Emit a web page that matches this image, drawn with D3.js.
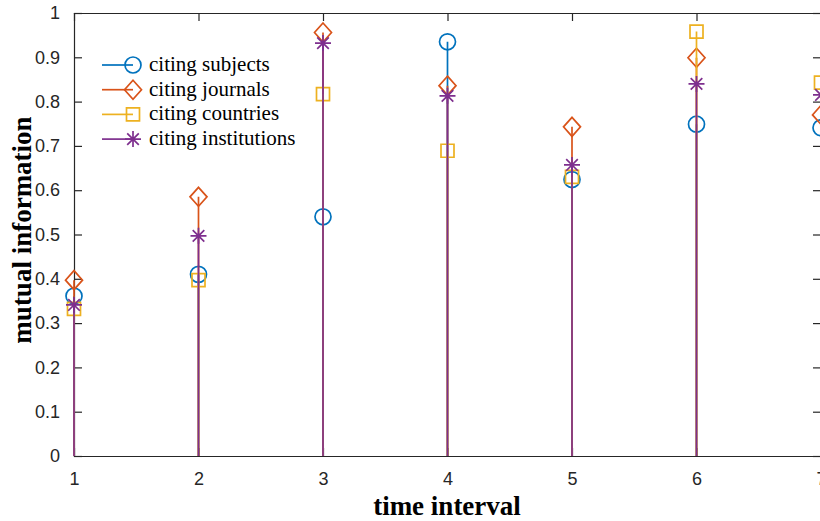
<!DOCTYPE html>
<html>
<head>
<meta charset="utf-8">
<script src="https://cdn.jsdelivr.net/npm/d3@7"></script>
<style>
  body { margin: 0; background: #fff; }
  svg { display: block; }
  .axis path, .axis line { stroke: #262626; stroke-width: 1.2; }
  .axis text { fill: #262626; font-family: "Liberation Sans", Arial, sans-serif; font-size: 18px; }
</style>
</head>
<body>
<div class="chart"></div>
<script>
// time intervals on x
var intervals = [1, 2, 3, 4, 5, 6, 7];
var yTicks = [0, 0.1, 0.2, 0.3, 0.4, 0.5, 0.6, 0.7, 0.8, 0.9, 1];

// mutual information per series
var subjects     = [0.361, 0.410, 0.540, 0.935, 0.624, 0.749, 0.741];
var journals     = [0.397, 0.585, 0.956, 0.836, 0.743, 0.899, 0.770];
var countries    = [0.332, 0.397, 0.817, 0.689, 0.630, 0.958, 0.843];
var institutions = [0.341, 0.497, 0.932, 0.813, 0.657, 0.840, 0.815];

var seriesNames = ["citing subjects", "citing journals", "citing countries", "citing institutions"];

var series = [
	{name: seriesNames[0], values: subjects,     color: "#0072BD", marker: "circle"},
	{name: seriesNames[1], values: journals,     color: "#D95319", marker: "diamond"},
	{name: seriesNames[2], values: countries,    color: "#EDB120", marker: "square"},
	{name: seriesNames[3], values: institutions, color: "#7E2F8E", marker: "star"}
];

var width = 820,
	height = 521,
	plotLeft = 74, plotRight = 821, plotTop = 13, plotBottom = 456;

var x = d3.scaleLinear()
	.domain([1, 7])
	.range([plotLeft, plotRight]);

var y = d3.scaleLinear()
	.domain([0, 1])
	.range([plotBottom, plotTop]);

var svg = d3.select(".chart")
	.append("svg")
	.attr("width", width)
	.attr("height", height);

// marker shapes, drawn around 0,0
function markerPath(type) {
	if (type == "circle") {
		return "M8,0A8,8 0 1,1 -8,0A8,8 0 1,1 8,0Z";
	}
	if (type == "diamond") {
		return "M0,-9.5L8.5,0L0,9.5L-8.5,0Z";
	}
	if (type == "square") {
		return "M-6.5,-6.5L6.5,-6.5L6.5,6.5L-6.5,6.5Z";
	}
	// star = plus + cross
	return "M-8,0L8,0M0,-8L0,8M-5.8,-5.8L5.8,5.8M-5.8,5.8L5.8,-5.8";
}

// axes: box with inward ticks
svg.append("g")
	.attr("class", "axis")
	.attr("transform", "translate(0," + plotBottom + ")")
	.call(d3.axisBottom(x).tickValues(intervals).tickFormat(d3.format("d"))
		.tickSizeInner(-8).tickSizeOuter(0).tickPadding(16));

svg.append("g")
	.attr("class", "axis")
	.attr("transform", "translate(0," + plotTop + ")")
	.call(d3.axisTop(x).tickValues(intervals).tickFormat("")
		.tickSizeInner(-8).tickSizeOuter(0));

svg.append("g")
	.attr("class", "axis")
	.attr("transform", "translate(" + plotLeft + ",0)")
	.call(d3.axisLeft(y).tickValues(yTicks).tickFormat(function(d){ return d === 0 || d === 1 ? d : d.toFixed(1); })
		.tickSizeInner(-8).tickSizeOuter(0).tickPadding(14));

svg.append("g")
	.attr("class", "axis")
	.attr("transform", "translate(" + plotRight + ",0)")
	.call(d3.axisRight(y).tickValues(yTicks).tickFormat("")
		.tickSizeInner(-8).tickSizeOuter(0));

svg.selectAll(".axis .domain").attr("stroke-linecap", "square");

// stems, one series after another
series.forEach(function(s) {
	var g = svg.append("g");
	g.selectAll("line")
		.data(s.values)
		.enter()
		.append("line")
		.attr("x1", function(d, i) { return x(intervals[i]); })
		.attr("x2", function(d, i) { return x(intervals[i]); })
		.attr("y1", y(0))
		.attr("y2", function(d) { return y(d); })
		.style("stroke", s.color)
		.style("stroke-width", "1.7px");

	g.selectAll("path")
		.data(s.values)
		.enter()
		.append("path")
		.attr("d", markerPath(s.marker))
		.attr("transform", function(d, i) { return "translate(" + x(intervals[i]) + "," + y(d) + ")"; })
		.style("fill", "none")
		.style("stroke", s.color)
		.style("stroke-width", "1.7px");
});

// legend (no box)
var legend = svg.append("g")
	.selectAll("g")
	.data(series)
	.enter()
	.append("g")
	.attr("transform", function(d, i) { return "translate(0," + (65 + i * 24.7) + ")"; });

legend.append("line")
	.attr("x1", 102)
	.attr("x2", 133)
	.attr("y1", 0)
	.attr("y2", 0)
	.style("stroke", function(d) { return d.color; })
	.style("stroke-width", "1.7px");

legend.append("path")
	.attr("d", function(d) { return markerPath(d.marker); })
	.attr("transform", "translate(133,0)")
	.style("fill", "none")
	.style("stroke", function(d) { return d.color; })
	.style("stroke-width", "1.7px");

legend.append("text")
	.attr("x", 149)
	.attr("y", 6)
	.style("font-family", "'Liberation Serif', 'Times New Roman', serif")
	.style("font-size", "21px")
	.style("fill", "#000")
	.text(function(d) { return d.name; });

// axis titles
svg.append("text")
	.attr("x", (plotLeft + plotRight) / 2 - 0.5)
	.attr("y", 515)
	.attr("text-anchor", "middle")
	.style("font-family", "'Liberation Serif', 'Times New Roman', serif")
	.style("font-weight", "bold")
	.style("font-size", "27px")
	.style("fill", "#000")
	.text("time interval");

svg.append("text")
	.attr("transform", "translate(31," + 230 + ") rotate(-90)")
	.attr("text-anchor", "middle")
	.style("font-family", "'Liberation Serif', 'Times New Roman', serif")
	.style("font-weight", "bold")
	.style("font-size", "27px")
	.style("fill", "#000")
	.text("mutual information");
</script>
</body>
</html>
